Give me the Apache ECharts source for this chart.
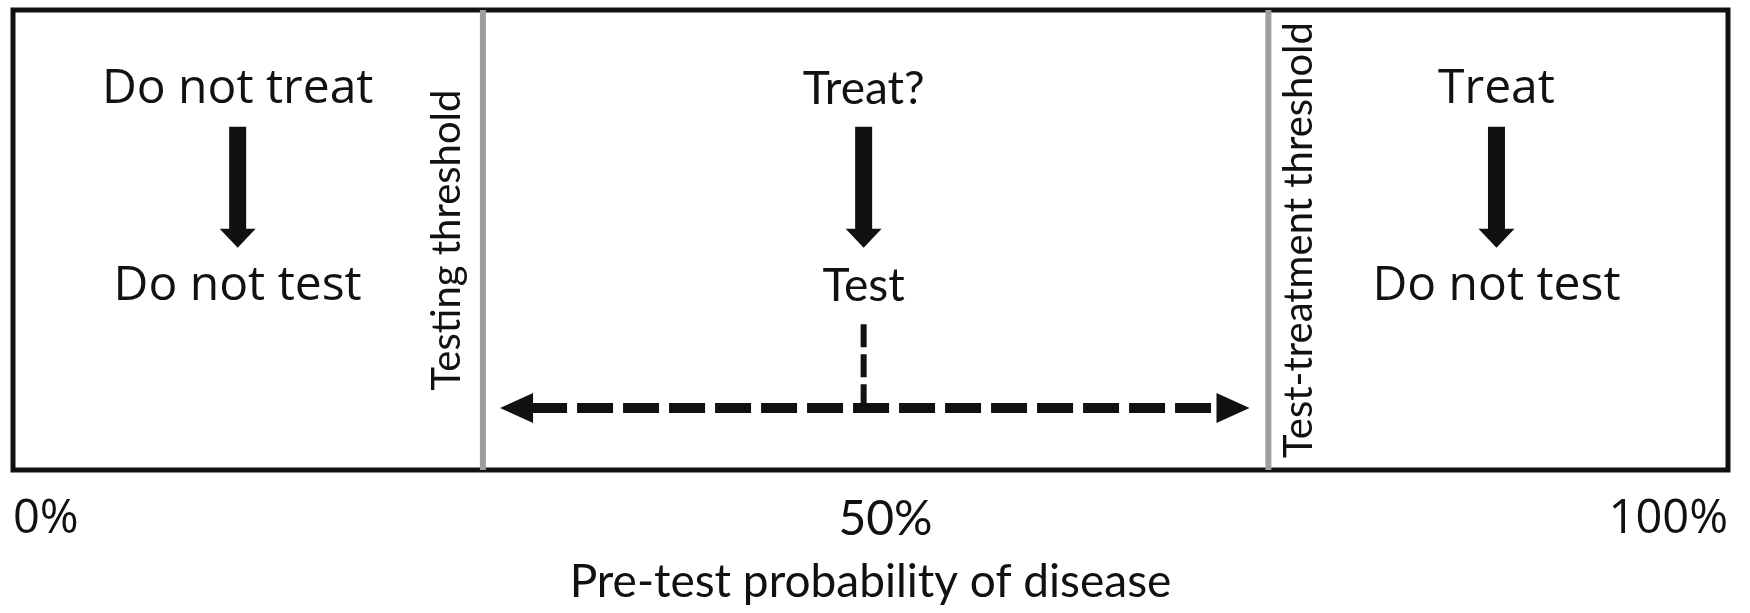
<!DOCTYPE html>
<html>
<head>
<meta charset="utf-8">
<script src="https://cdn.jsdelivr.net/npm/echarts@6/dist/echarts.min.js"></script>
<style>
  html, body { margin: 0; padding: 0; background: #fff; }
  #chart { width: 1750px; height: 613px; }
</style>
</head>
<body>
<div id="chart"></div>
<script>
// thresholds on the pre-test probability axis (%)
const thresholdValues = [27.4, 73.2];
const thresholdNames = ["Testing threshold", "Test-treatment threshold"];
// decision zones
const zoneCenters = [13.1, 49.6, 86.5];
const zoneActions = ["Do not treat", "Treat?", "Treat"];
const zoneTests = ["Do not test", "Test", "Do not test"];
// extent of the dashed double arrow under "Test"
const testRange = [28.4, 72.1];
const xTicks = [0, 50, 100];

const wideFont = "Open Sans"; // corbel-ish texts
const narrowFont = "Lato"; // calibri-ish texts
const ink = "#111";

// row levels inside the box (y axis is 0..100, hidden)
const rowAction = 82.8;
const rowTest = 40.0;
const arrowTop = 74.6;
const arrowTip = 48.3;
const stemTop = 31.7;
const rowRange = 13.5;

const chart = echarts.init(document.getElementById("chart"));

const downArrow = (x, yTop, yTip) => {
  const shaft = 8.5; // half width
  const head = 18;
  const headLen = 19;
  const yBase = yTip - headLen;
  return {
    type: "polygon",
    shape: {
      points: [
        [x - shaft, yTop],
        [x + shaft, yTop],
        [x + shaft, yBase],
        [x + head, yBase],
        [x, yTip],
        [x - head, yBase],
        [x - shaft, yBase],
      ],
    },
    style: { fill: ink },
  };
};

const option = {
  animation: false,
  grid: {
    left: 13,
    right: 22,
    top: 10,
    bottom: 143,
    show: true,
    borderColor: ink,
    borderWidth: 5,
    backgroundColor: "#fff",
  },
  xAxis: {
    type: "value",
    min: xTicks[0],
    max: xTicks[xTicks.length - 1],
    interval: xTicks[1] - xTicks[0],
    axisLine: { show: false },
    axisTick: { show: false },
    splitLine: { show: false },
    axisLabel: {
      margin: 26,
      alignMinLabel: "left",
      alignMaxLabel: "right",
      formatter: (v) => (v === 50 ? "{n|" + v + "%}" : "{w|" + v + "%}"),
      rich: {
        w: { fontFamily: wideFont, fontSize: 47, color: ink },
        n: { fontFamily: narrowFont, fontSize: 48, color: ink, padding: [0, 0, 0, 30] },
      },
    },
    name: "Pre-test probability of disease",
    nameLocation: "middle",
    nameGap: 89,
    nameTextStyle: { fontFamily: narrowFont, fontSize: 46, color: ink },
  },
  yAxis: { type: "value", min: 0, max: 100, show: false },
  series: [
    {
      // grey threshold lines + their rotated names
      type: "custom",
      clip: false,
      data: thresholdValues.map((v, i) => [v, i]),
      renderItem: (params, api) => {
        const i = params.dataIndex;
        const top = api.coord([api.value(0), 100]);
        const bot = api.coord([api.value(0), 0]);
        const mid = api.coord([api.value(0), 50]);
        const dx = i === 0 ? -36 : 31;
        return {
          type: "group",
          children: [
            {
              type: "line",
              shape: { x1: top[0], y1: top[1], x2: bot[0], y2: bot[1] },
              style: { stroke: "#9e9e9e", lineWidth: 6 },
            },
            {
              type: "text",
              x: mid[0] + dx,
              y: mid[1],
              rotation: Math.PI / 2,
              style: {
                text: thresholdNames[i],
                fontFamily: narrowFont,
                fontSize: 40,
                fill: ink,
                align: "center",
                verticalAlign: "middle",
              },
            },
          ],
        };
      },
    },
    {
      // action -> test in each zone
      type: "custom",
      clip: false,
      data: zoneCenters.map((v, i) => [v, i]),
      renderItem: (params, api) => {
        const i = params.dataIndex;
        const x = api.value(0);
        const font = i === 1 ? narrowFont : wideFont;
        const size = i === 1 ? 46 : 48;
        const a = api.coord([x, rowAction]);
        const t = api.coord([x, rowTest]);
        const p0 = api.coord([x, arrowTop]);
        const p1 = api.coord([x, arrowTip]);
        return {
          type: "group",
          children: [
            {
              type: "text",
              x: a[0],
              y: a[1],
              style: {
                text: zoneActions[i],
                fontFamily: font,
                fontSize: size,
                fill: ink,
                align: "center",
                verticalAlign: "middle",
              },
            },
            downArrow(p0[0], p0[1], p1[1]),
            {
              type: "text",
              x: t[0],
              y: t[1],
              style: {
                text: zoneTests[i],
                fontFamily: font,
                fontSize: size,
                fill: ink,
                align: "center",
                verticalAlign: "middle",
              },
            },
          ],
        };
      },
    },
    {
      // dashed stem + dashed double arrow under "Test"
      type: "custom",
      clip: false,
      data: [[testRange[0], testRange[1], zoneCenters[1]]],
      renderItem: (params, api) => {
        const l = api.coord([api.value(0), rowRange]);
        const r = api.coord([api.value(1), rowRange]);
        const s0 = api.coord([api.value(2), stemTop]);
        const s1 = api.coord([api.value(2), rowRange]);
        const headLen = 33;
        const headH = 15;
        const y = l[1];
        return {
          type: "group",
          children: [
            {
              type: "line",
              shape: { x1: s0[0], y1: s0[1], x2: s1[0], y2: s1[1] },
              style: { stroke: ink, lineWidth: 6, lineDash: [23, 7] },
            },
            {
              type: "line",
              shape: { x1: l[0] + headLen - 2, y1: y, x2: r[0] - headLen + 2, y2: y },
              style: { stroke: ink, lineWidth: 10, lineDash: [36, 10] },
            },
            {
              type: "polygon",
              shape: {
                points: [
                  [l[0], y],
                  [l[0] + headLen, y - headH],
                  [l[0] + headLen, y + headH],
                ],
              },
              style: { fill: ink },
            },
            {
              type: "polygon",
              shape: {
                points: [
                  [r[0], y],
                  [r[0] - headLen, y - headH],
                  [r[0] - headLen, y + headH],
                ],
              },
              style: { fill: ink },
            },
          ],
        };
      },
    },
  ],
};

chart.setOption(option);
</script>
</body>
</html>
